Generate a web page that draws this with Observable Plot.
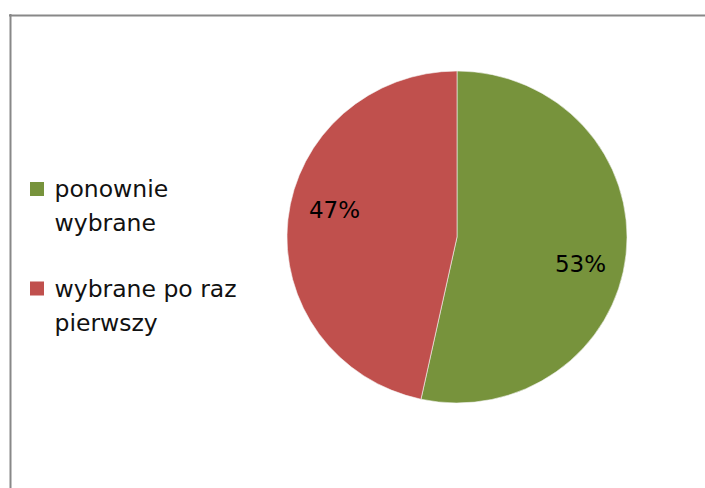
<!DOCTYPE html>
<html>
<head>
<meta charset="utf-8">
<script src="https://cdn.jsdelivr.net/npm/d3@7"></script>
<script src="https://cdn.jsdelivr.net/npm/@observablehq/plot@0.6"></script>
<style>
  html, body { margin: 0; padding: 0; background: #fff; }
  #chart { width: 705px; height: 488px; }
</style>
</head>
<body>
<div id="chart"></div>
<script>
// Data
const categories = ["ponownie wybrane", "wybrane po raz pierwszy"];
const legendText = ["ponownie\nwybrane", "wybrane po raz\npierwszy"];
const shares = [53.4, 46.6];
const colors = ["#77933C", "#C0504D"];

const data = categories.map((c, i) => ({category: c, legend: legendText[i], value: shares[i], idx: i}));

// Layout
const W = 705, H = 488;
const cx = 457, cy = 237, rx = 170, ry = 166;
const fontFamily = "'DejaVu Sans', sans-serif";

const arcs = d3.pie().sort(null).value(d => d.value)(data);
const arcGen = d3.arc().innerRadius(0).outerRadius(rx);

const labelOffset = 6.5 * Math.PI / 180;
const labelR = 126;
const total = d3.sum(shares);
const labels = arcs.map(a => {
  const ang = (a.startAngle + a.endAngle) / 2 + labelOffset;
  return {
    text: Math.round(a.data.value / total * 100) + "%",
    x: cx + labelR * Math.sin(ang),
    y: cy - labelR * Math.cos(ang) * (ry / rx)
  };
});

const pieMark = (index, scales) => {
  const g = d3.create("svg:g")
    .attr("transform", `translate(${cx},${cy}) scale(1,${ry / rx})`);
  g.selectAll("path")
    .data(arcs)
    .join("path")
    .attr("d", arcGen)
    .attr("fill", d => scales.color(d.data.category))
    .attr("stroke", "#f4f4f4")
    .attr("stroke-width", 0.6);
  return g.node();
};

const legendX = 30, legendSize = 14, legendTop = 182, legendStep = 99.5;
const legendData = data.map(d => ({...d,
  x1: legendX, x2: legendX + legendSize,
  y1: legendTop + d.idx * legendStep, y2: legendTop + d.idx * legendStep + legendSize,
  tx: 54, ty: 230 + d.idx * 100
}));

const chart = Plot.plot({
  width: W,
  height: H,
  margin: 0,
  style: {background: "#fff", fontFamily: fontFamily, overflow: "visible"},
  x: {type: "identity", axis: null},
  y: {type: "identity", axis: null},
  color: {domain: categories, range: colors},
  marks: [
    // frame
    Plot.ruleX([10], {y1: 14, y2: H, stroke: "#888", strokeWidth: 2}),
    Plot.ruleY([15], {x1: 9, x2: W, stroke: "#888", strokeWidth: 2}),
    pieMark,
    Plot.text(labels, {x: "x", y: "y", text: "text", fontSize: 23, fill: "#000", textAnchor: "middle", lineAnchor: "middle"}),
    Plot.rect(legendData, {x1: "x1", x2: "x2", y1: "y1", y2: "y2", fill: "category"}),
    Plot.text(legendData, {x: "tx", y: "ty", text: "legend", fontSize: 23.5, fill: "#111", textAnchor: "start", lineAnchor: "bottom", lineHeight: 1.41})
  ]
});

document.getElementById("chart").appendChild(chart);
</script>
</body>
</html>
